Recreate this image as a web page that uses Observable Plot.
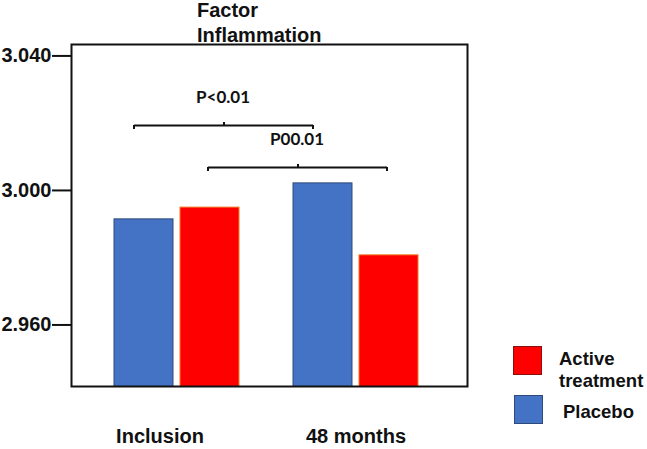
<!DOCTYPE html>
<html>
<head>
<meta charset="utf-8">
<script src="https://cdn.jsdelivr.net/npm/d3@7"></script>
<script src="https://cdn.jsdelivr.net/npm/@observablehq/plot@0.6"></script>
<style>
  body { margin: 0; background: #fff; }
  #wrap { position: relative; width: 647px; height: 449px; font-family: "Liberation Sans", Arial, sans-serif; font-weight: bold; color: #111; }
  #title { position: absolute; left: 197px; top: -2px; font-size: 20px; line-height: 25px; white-space: nowrap; }
  .sw { position: absolute; width: 29px; height: 29px; box-sizing: border-box; }
  .lt { position: absolute; font-size: 18.5px; line-height: 22px; white-space: nowrap; }
</style>
</head>
<body>
<div id="wrap">
  <div id="chart"></div>
  <div id="title">Factor<br>Inflammation</div>
  <div class="sw" style="left:513px;top:346px;background:#FF0000;border:1px solid #8a1010"></div>
  <div class="lt" style="left:559px;top:348px">Active<br>treatment</div>
  <div class="sw" style="left:514px;top:395px;background:#4472C4;border:1px solid #2e4a7a"></div>
  <div class="lt" style="left:563px;top:401px">Placebo</div>
</div>
<script>
// ---- data ----
const categories = ["Inclusion", "48 months"];
const seriesNames = ["Placebo", "Active treatment"];
const placeboValues = [2.9914, 3.0021];
const activeValues = [2.9949, 2.9807];
const yTicks = [2.96, 3.00, 3.04];
const bracketLabels = ["P<0.01", "P00.01"];
const bracketLevels = [3.0193, 3.0068];
const bracketSeries = ["Placebo", "Active treatment"];

// ---- tables ----
const bars = [];
categories.forEach((c, i) => {
  bars.push({category: c, series: seriesNames[0], value: placeboValues[i]});
  bars.push({category: c, series: seriesNames[1], value: activeValues[i]});
});
const brackets = bracketLabels.map((label, i) => ({label, level: bracketLevels[i], series: bracketSeries[i]}));

const colors = {"Placebo": "#4472C4", "Active treatment": "#FF0000"};
const outline = {"Placebo": "#2e4a7a", "Active treatment": "#f07a2a"};
const halfStep = 90;
const bracketDx = {"Placebo": -43, "Active treatment": 31};

const marks = [];
// bars
seriesNames.forEach((s, j) => {
  marks.push(Plot.barY(bars.filter(d => d.series === s), {
    x: "category", y: "value",
    fill: colors[s], stroke: outline[s], strokeWidth: 1,
    insetLeft: j === 0 ? 0 : 66, insetRight: j === 0 ? 66 : 0,
    clip: true
  }));
});
// brackets
brackets.forEach(b => {
  const dx = bracketDx[b.series];
  marks.push(Plot.link([b], {x1: () => categories[0], x2: () => categories[1], y1: "level", y2: "level", dx, stroke: "#111", strokeWidth: 2}));
  marks.push(Plot.ruleX(categories, {x: d => d, y1: () => b.level, y2: () => b.level, insetBottom: -4, dx, stroke: "#111", strokeWidth: 2}));
  marks.push(Plot.ruleX([categories[0]], {x: d => d, y1: () => b.level, y2: () => b.level, insetTop: -3, dx: dx + halfStep, stroke: "#111", strokeWidth: 2}));
  marks.push(Plot.text([b], {x: () => categories[0], y: "level", text: "label", dx: dx + halfStep - 1, dy: -28, fontFamily: "Lato, 'Open Sans', sans-serif", fontWeight: "bold", fontSize: 17, fill: "#111"}));
});
// axes
marks.push(Plot.axisY({ticks: yTicks, tickFormat: d3.format(".3f"), tickSize: 19, tickPadding: 1, strokeWidth: 2, fontSize: 20, label: null}));
marks.push(Plot.axisX({ticks: [categories[0]], tickSize: 0, tickPadding: 42, dx: -17, fontSize: 20, label: null}));
marks.push(Plot.axisX({ticks: [categories[1]], tickSize: 0, tickPadding: 42, fontSize: 20, label: null}));
marks.push(Plot.frame({stroke: "#111", strokeWidth: 2}));

const chart = Plot.plot({
  width: 647, height: 449,
  marginLeft: 71, marginRight: 180, marginTop: 44, marginBottom: 63,
  x: {domain: categories, paddingInner: 0.3, paddingOuter: 0.25, align: 0.4667, label: null},
  y: {domain: [2.9417, 3.0434], label: null},
  style: {fontFamily: "'Liberation Sans', Arial, sans-serif", fontWeight: "bold", color: "#111", background: "transparent"},
  marks
});
document.getElementById("chart").appendChild(chart);
</script>
</body>
</html>
